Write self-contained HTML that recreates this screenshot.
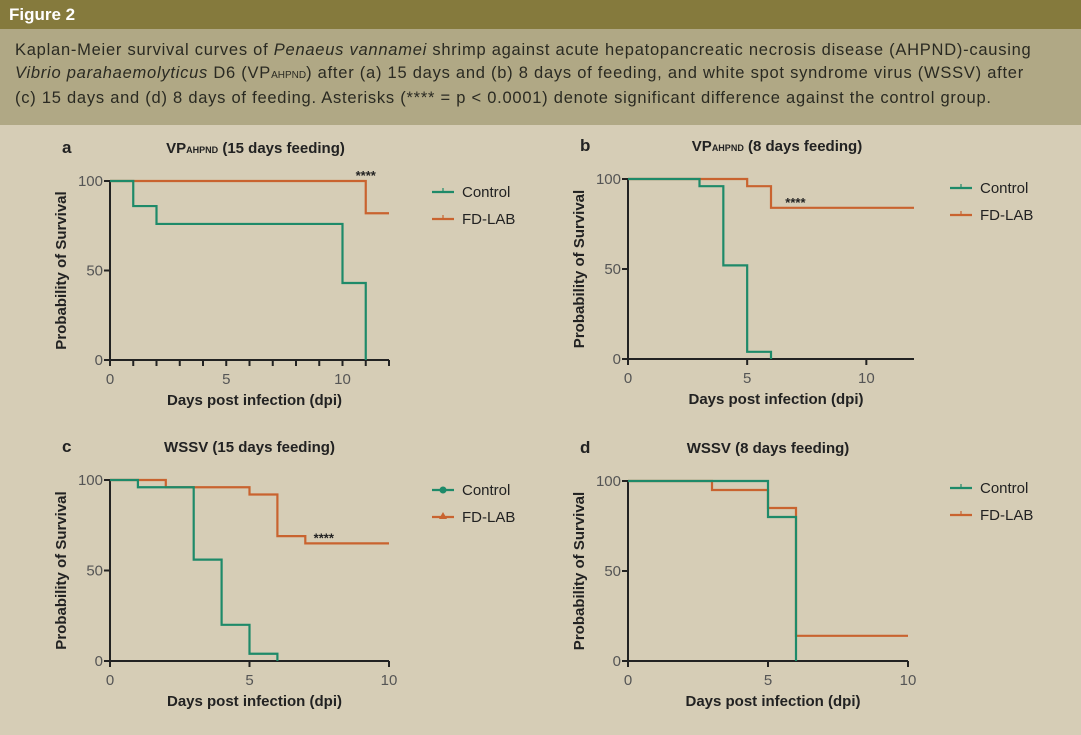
<!DOCTYPE html>
<html><head><meta charset="utf-8">
<style>
body{margin:0;width:1081px;height:735px;overflow:hidden;background:#d6cdb6;font-family:"Liberation Sans",sans-serif;}
#hdr{position:absolute;left:0;top:0;width:1081px;height:29px;background:#857a3d;color:#fff;font-weight:bold;font-size:17px;line-height:29px;padding-left:9px;box-sizing:border-box}
#cap{position:absolute;left:0;top:29px;width:1081px;height:96px;background:#b0a885;color:#2a2a22;font-size:16.5px;letter-spacing:0.75px;line-height:23px;padding:10px 15px;box-sizing:border-box;white-space:nowrap}
.sc{font-size:10px;letter-spacing:0}
svg{position:absolute;left:0;top:0}
</style></head><body>
<div id="hdr">Figure 2</div>
<div id="cap">Kaplan-Meier survival curves of <i>Penaeus vannamei</i> shrimp against acute hepatopancreatic necrosis disease (AHPND)-causing<br><i>Vibrio parahaemolyticus</i> D6 (VP<span class="sc">AHPND</span>) after (a) 15 days and (b) 8 days of feeding, and white spot syndrome virus (WSSV) after<br>(c) 15 days and (d) 8 days of feeding. Asterisks (**** = p &lt; 0.0001) denote significant difference against the control group.</div>
<svg id="chart" width="1081" height="735"></svg>
<script>
// step data: times where value applies from, values
const aCtrlT=[0,1,2,10,11,11], aCtrlV=[100,86,76,43,0,0];
const aLabT=[0,11,12], aLabV=[100,82,82];
const bCtrlT=[0,3,4,5,6,6], bCtrlV=[100,96,52,4,0,0];
const bLabT=[0,5,6,12], bLabV=[100,96,84,84];
const cCtrlT=[0,1,3,4,5,6,6], cCtrlV=[100,96,56,20,4,0,0];
const cLabT=[0,2,5,6,7,10], cLabV=[100,96,92,69,65,65];
const dCtrlT=[0,5,6,6], dCtrlV=[100,80,0,0];
const dLabT=[0,3,5,6,10], dLabV=[100,95,85,14,14];
const yTicks=[0,50,100];
const panels=[
 {id:'a',title:'VP',sub:'AHPND',rest:' (15 days feeding)',x0:110,x1:389,y0:360,y1:181,xmax:12,xt:[0,5,10],minor:1,ctrl:[aCtrlT,aCtrlV],lab:[aLabT,aLabV],star:[11,100],lx:432,ly:192,marker:'tick'},
 {id:'b',title:'VP',sub:'AHPND',rest:' (8 days feeding)',x0:628,x1:914,y0:359,y1:179,xmax:12,xt:[0,5,10],minor:0,ctrl:[bCtrlT,bCtrlV],lab:[bLabT,bLabV],star:[6.6,84],lx:950,ly:188,marker:'tick'},
 {id:'c',title:'WSSV',sub:'',rest:' (15 days feeding)',x0:110,x1:389,y0:661,y1:480,xmax:10,xt:[0,5,10],minor:0,ctrl:[cCtrlT,cCtrlV],lab:[cLabT,cLabV],star:[7.3,65],lx:432,ly:490,marker:'dot'},
 {id:'d',title:'WSSV',sub:'',rest:' (8 days feeding)',x0:628,x1:908,y0:661,y1:481,xmax:10,xt:[0,5,10],minor:0,ctrl:[dCtrlT,dCtrlV],lab:[dLabT,dLabV],star:null,lx:950,ly:488,marker:'tick'}
];
const G='#1e8a69',O='#c9632f',NS='http://www.w3.org/2000/svg';
const svg=document.getElementById('chart');
function mk(tag,at,parent,txt){const e=document.createElementNS(NS,tag);for(const k in at)e.setAttribute(k,at[k]);if(txt!=null)e.textContent=txt;(parent||svg).appendChild(e);return e;}
panels.forEach(p=>{
 const g=mk('g',{});
 
 
 const X=t=>p.x0+(p.x1-p.x0)*t/p.xmax, Y=v=>p.y0+(p.y1-p.y0)*v/100;
 const lab=mk('text',{x:p.x0-48,y:p.y1-28,'font-size':17,'font-weight':'bold',fill:'#222'},g,p.id);
 
 
 const tt=mk('text',{x:(p.x0+p.x1)/2+(p.id=='a'||p.id=='b'?6:0),y:p.y1-28,'font-size':15,'font-weight':'bold',fill:'#222','text-anchor':'middle'},g);
 
 
 mk('tspan',{},tt,p.title);if(p.sub)mk('tspan',{'font-size':9},tt,p.sub);mk('tspan',{},tt,p.rest);
 mk('line',{x1:p.x0,y1:p.y0+1,x2:p.x0,y2:p.y1,stroke:'#222','stroke-width':2},g);
 mk('line',{x1:p.x0-1,y1:p.y0,x2:p.x1,y2:p.y0,stroke:'#222','stroke-width':2},g);
 yTicks.forEach(v=>{mk('line',{x1:p.x0-6,y1:Y(v),x2:p.x0,y2:Y(v),stroke:'#222','stroke-width':2},g);
  const t=mk('text',{x:p.x0-7,y:Y(v)+5,'font-size':15,fill:'#555','text-anchor':'end'},g,v);
  });
 const step=p.minor?1:5;
 for(let t=0;t<=p.xmax;t+=step){mk('line',{x1:X(t),y1:p.y0,x2:X(t),y2:p.y0+6,stroke:'#222','stroke-width':2},g);}
 p.xt.forEach(t=>{const e=mk('text',{x:X(t),y:p.y0+24,'font-size':15,fill:'#555','text-anchor':'middle'},g,t);
  });
 const xt=mk('text',{x:(p.x0+p.x1)/2+5,y:p.y0+45,'font-size':15,'font-weight':'bold',fill:'#222','text-anchor':'middle'},g,'Days post infection (dpi)');
 
 const ym=(p.y0+p.y1)/2;
 const yt=mk('text',{x:p.x0-44,y:ym,'font-size':15,'font-weight':'bold',fill:'#222','text-anchor':'middle',transform:`rotate(-90 ${p.x0-44} ${ym})`},g,'Probability of Survival');
 
 function curve(T,V,c,name){let d=`M${X(T[0])},${Y(V[0])}`;for(let i=1;i<T.length;i++){d+=`H${X(T[i])}V${Y(V[i])}`;}
  const e=mk('path',{d:d,fill:'none',stroke:c,'stroke-width':2.2},g);}
 curve(p.lab[0],p.lab[1],O,'fd-lab-curve');
 curve(p.ctrl[0],p.ctrl[1],G,'control-curve');
 if(p.star){const s=mk('text',{x:X(p.star[0]),y:Y(p.star[1])+(p.id=='a'?-1:-1),'font-size':13,'font-weight':'bold',fill:'#222','text-anchor':p.id=='a'?'middle':'start'},g,'****');
  }
 [['Control',G,0],['FD-LAB',O,27]].forEach(([n,c,dy])=>{const lg=mk('g',{},g);
  
  mk('line',{x1:p.lx,y1:p.ly+dy,x2:p.lx+22,y2:p.ly+dy,stroke:c,'stroke-width':2.2},lg);
  if(p.marker=='dot'){if(n=='Control')mk('circle',{cx:p.lx+11,cy:p.ly+dy,r:3.5,fill:c},lg);else mk('path',{d:`M${p.lx+11},${p.ly+dy-5}l4,7h-8z`,fill:c},lg);}
  else mk('line',{x1:p.lx+11,y1:p.ly+dy-4,x2:p.lx+11,y2:p.ly+dy,stroke:c,'stroke-width':1.2},lg);
  mk('text',{x:p.lx+30,y:p.ly+dy+5,'font-size':15,fill:'#222'},lg,n);});
});
</script>
</body></html>
